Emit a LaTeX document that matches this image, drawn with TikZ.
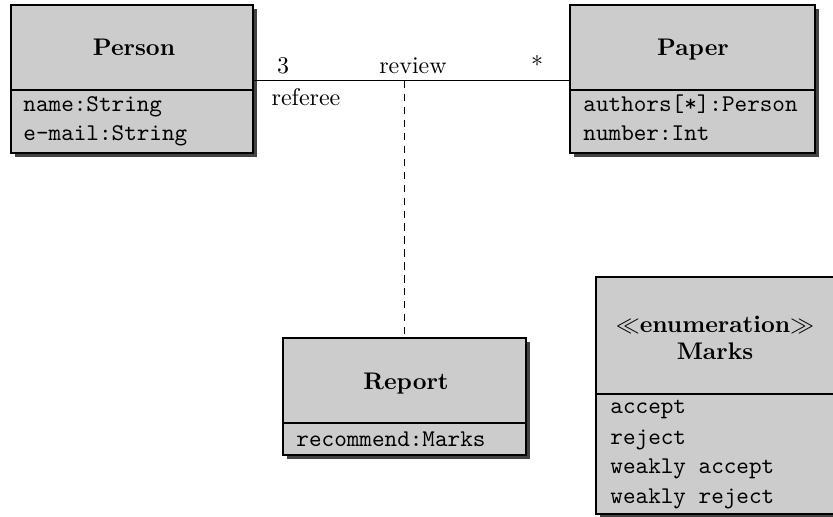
\documentclass[tikz,border=0pt]{standalone}
\usetikzlibrary{shadows,fit}
\definecolor{boxfill}{HTML}{CCCCCC}
\definecolor{shadowgray}{HTML}{444444}
\tikzset{
  classbox/.style={draw=black, line width=0.8pt, fill=boxfill, inner sep=0pt,
    drop shadow={shadow xshift=1.8pt, shadow yshift=-1.8pt, fill=shadowgray, opacity=1}},
  divider/.style={line width=0.8pt},
  assoc/.style={line width=0.45pt},
  title/.style={anchor=base, font=\bfseries, inner sep=0pt},
  attr/.style={anchor=base west, inner sep=0pt, font=\ttfamily},
  lbl/.style={anchor=base, inner sep=0pt}
}
\begin{document}
\begin{tikzpicture}[x=0.4167pt, y=-0.4167pt]
\useasboundingbox (0,0) rectangle (833,517);
% classes
\node[classbox, fit={(11,5) (253,153)}] (person) {};
\node[classbox, fit={(570,5) (815,153)}] (paper) {};
\node[classbox, fit={(283,338) (526,455)}] (report) {};
\node[classbox, fit={(596,277) (835,514)}] (marks) {};
% dividers
\draw[divider] (11,90) -- (253,90);
\draw[divider] (570,90) -- (815,90);
\draw[divider] (283,423) -- (526,423);
\draw[divider] (596,394) -- (835,394);
% titles
\node[title] (tperson) at (134,56) {Person};
\node[title] (tpaper) at (693,56) {Paper};
\node[title] (treport) at (406,389) {Report};
\node[title] (tenum) at (715,332) {$\ll$enumeration$\gg$};
\node[title] (tmarks) at (715,359) {Marks};
% attributes
\node[attr] (a1) at (23,111) {name:String};
\node[attr] (a2) at (23,141) {e-mail:String};
\node[attr] (a3) at (583,111) {authors[*]:Person};
\node[attr] (a4) at (583,141) {number:Int};
\node[attr] (a5) at (296,446) {recommend:Marks};
\node[attr] (m1) at (610,414) {accept};
\node[attr] (m2) at (610,444) {reject};
\node[attr] (m3) at (610,474) {weakly accept};
\node[attr] (m4) at (610,503) {weakly reject};
% association
\coordinate (pe) at ([yshift=-0.8pt]person.east);
\coordinate (pw) at ([yshift=-0.8pt]paper.west);
\draw[assoc] (pe) -- (pw);
\coordinate (rev) at (report.north |- pe);
\draw[assoc, dash pattern=on 3pt off 2.4pt] (rev) -- (report.north);
\node[lbl] (l3) at (283,74) {3};
\node[lbl] (lrev) at (413,74) {review};
\node[lbl] (lstar) at (537,74) {*};
\node[lbl] (lref) at (306,105) {referee};
\end{tikzpicture}
\end{document}
